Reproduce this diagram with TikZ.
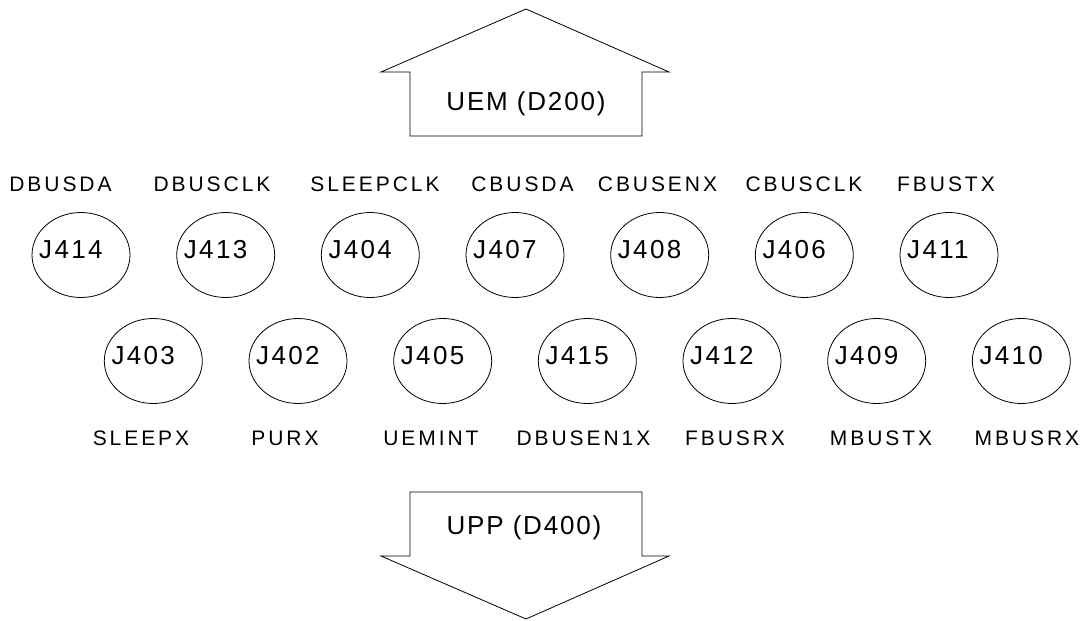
\documentclass[tikz,border=0pt]{standalone}
\usepackage{fontspec}
\setmainfont{Liberation Sans}
\newfontfamily\labfont[LetterSpace=14]{Liberation Sans}
\newfontfamily\pinfont[LetterSpace=9]{Liberation Sans}
\newfontfamily\arrfont[LetterSpace=7]{Liberation Sans}
\usetikzlibrary{shapes.geometric}
\tikzset{
  pin/.style={draw, ellipse, line width=0.8pt, minimum width=98pt, minimum height=85pt, inner sep=0pt},
  pintext/.style={anchor=base west, inner sep=0pt, font=\pinfont\fontsize{26}{30}\selectfont},
  sig/.style={anchor=base, inner sep=0pt, font=\labfont\fontsize{21}{25}\selectfont},
  bus/.style={draw, line width=0.8pt, line join=miter},
  bustext/.style={anchor=base, inner sep=0pt, font=\arrfont\fontsize{26}{30}\selectfont},
}
\begin{document}
\begin{tikzpicture}[x=1pt, y=-1pt]
\useasboundingbox (0,0) rectangle (1088,621);
\fill[white] (0,0) rectangle (1088,621);

% upward bus arrow to UEM
\draw[bus] (526,9) -- (669,72) -- (642,72) -- (642,136) -- (410,136) -- (410,72) -- (381,72) -- cycle;
\node[bustext] (uem) at (526,110) {UEM (D200)};

% downward bus arrow to UPP
\draw[bus] (410,492) -- (642,492) -- (642,556) -- (669,556) -- (526,619) -- (381,556) -- (410,556) -- cycle;
\node[bustext] (upp) at (524,534) {UPP (D400)};

% upper row of test points
\foreach \name/\cx/\lx/\sig in {414/81/60.5/DBUSDA, 413/225.7/212/DBUSCLK, 404/370.3/375/SLEEPCLK,
  407/515/522.5/CBUSDA, 408/659.7/657.5/CBUSENX, 406/804.3/804/CBUSCLK, 411/949/946/FBUSTX} {
  \node[pin] (e\name) at (\cx,255) {};
  \node[pintext] (t\name) at (\cx-42,258) {J\name};
  \node[sig] (s\name) at (\lx,191) {\sig};
}

% lower row of test points
\foreach \name/\cx/\lx/\sig in {403/153.3/141/SLEEPX, 402/298/285/PURX, 405/442.7/431/UEMINT,
  415/587.3/583.5/DBUSEN1X, 412/732/735/FBUSRX, 409/876.7/881/MBUSTX, 410/1021.3/1027/MBUSRX} {
  \node[pin] (e\name) at (\cx,361) {};
  \node[pintext] (t\name) at (\cx-42,364) {J\name};
  \node[sig] (s\name) at (\lx,445) {\sig};
}
\end{tikzpicture}
\end{document}
